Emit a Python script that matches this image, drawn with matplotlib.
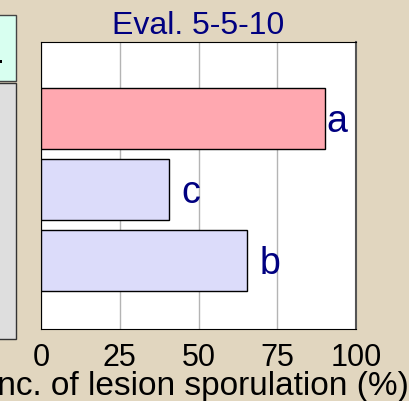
import matplotlib
matplotlib.use("Agg")
from matplotlib import pyplot as plt
from matplotlib.patches import Rectangle

plt.rcParams['font.family'] = ['Liberation Sans', 'DejaVu Sans']

# data
treatments = ['a', 'c', 'b']          # letter shown at bar end (top to bottom)
values = [90, 40.5, 65.5]             # incidence of lesion sporulation (%)
colors = ['#ffa8b0', '#dcdcfa', '#dcdcfa']
xticks = [0, 25, 50, 75, 100]

bg = '#e1d6bf'
navy = '#000080'

fig = plt.figure(figsize=(4.09, 4.01), dpi=100, facecolor=bg)

# bits of the neighbouring panel on the slide (cut off at left)
W, H = 409, 401
fig.patches.append(Rectangle((-5 / W, 1 - 81 / H), 21 / W, 66 / H, transform=fig.transFigure,
                             facecolor='#d8fff0', edgecolor='#444444', lw=1))
fig.patches.append(Rectangle((-5 / W, 1 - 339 / H), 21 / W, 256 / H, transform=fig.transFigure,
                             facecolor='#dedede', edgecolor='#333333', lw=1))
fig.patches.append(Rectangle((0, 1 - 63 / H), 2 / W, 3 / H, transform=fig.transFigure,
                             facecolor='black', lw=0))

ax = fig.add_axes([41 / W, 1 - 329 / H, 315 / W, 287 / H])
ax.set_facecolor('white')

ypos = list(range(len(values)))
ax.barh(ypos, values, height=0.86, color=colors, edgecolor='black', linewidth=1, zorder=3)

offsets = [0.5, 4, 4]
for y, v, t, o in zip(ypos, values, treatments, offsets):
    ax.text(v + o, y + 0.05, t, color=navy, fontsize=27, ha='left', va='center', zorder=4)

ax.set_xlim(0, 100)
ax.set_ylim(2.96, -1.08)
ax.set_xticks(xticks)
ax.set_yticks([])
ax.tick_params(axis='x', length=0, pad=10, labelsize=22)
ax.grid(axis='x', color='#b4b4b4', lw=1, zorder=0)

for s in ['top', 'bottom', 'left']:
    ax.spines[s].set_color('black')
ax.spines['right'].set_color('#555555')
ax.spines['right'].set_linewidth(1.5)

ax.set_title('Eval. 5-5-10', color=navy, fontsize=23, pad=6)
ax.set_xlabel('Inc. of lesion sporulation (%)', fontsize=24, labelpad=-1)

fig.savefig('out.png', dpi=100, facecolor=bg)
